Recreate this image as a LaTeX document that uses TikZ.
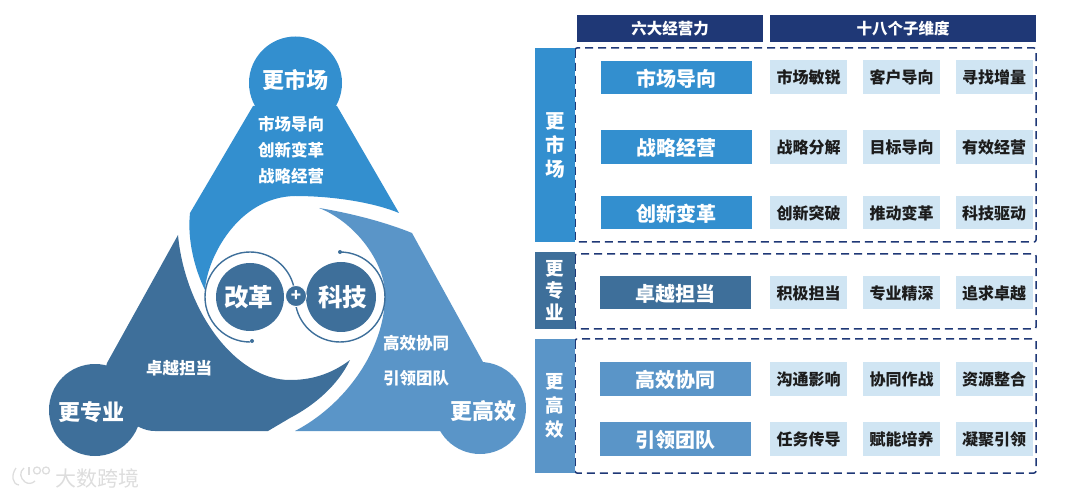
\documentclass[tikz,border=0pt]{standalone}
\usepackage{fontspec}
\usepackage{xcolor}
\setmainfont{Noto Sans CJK SC}
\definecolor{boardnavy}{HTML}{1F3876}
\definecolor{boardmarket}{HTML}{338FCF}
\definecolor{boardpro}{HTML}{3E6F9A}
\definecolor{boardteam}{HTML}{5A95C8}
\definecolor{boardpale}{HTML}{D0E5F3}
\definecolor{boardink}{HTML}{1C1C1C}
\definecolor{boardmark}{HTML}{DDDDDD}

\begin{document}
\begin{tikzpicture}[
  x=1pt,
  y=-1pt,
  every node/.style={font=\bfseries, inner sep=0pt, outer sep=0pt, align=center},
  headbox/.style={fill=boardnavy, text=white, minimum height=27pt, font=\bfseries\fontsize{15.5}{18}\selectfont},
  bandbox/.style={text=white, minimum width=40pt, font=\bfseries\fontsize{19.5}{24}\selectfont},
  mainbox/.style={text=white, minimum width=151pt, minimum height=33.5pt, text height=19pt, font=\bfseries\fontsize{20}{24}\selectfont},
  subbox/.style={fill=boardpale, text=boardink, minimum width=77pt, minimum height=33.5pt, text height=15pt, font=\bfseries\fontsize{16}{18}\selectfont},
  dashbox/.style={draw=boardnavy, line width=1.5pt, dash pattern=on 8pt off 5pt, rounded corners=2pt},
  ringline/.style={draw=boardpro, line width=1.4pt},
  shapetext/.style={text=white, font=\bfseries\fontsize{16.5}{18}\selectfont},
  circletext/.style={text=white, font=\bfseries\fontsize{22}{26}\selectfont},
  corecircle/.style={circle, fill=boardpro, text=white, minimum size=68pt, font=\bfseries\fontsize{24.5}{28}\selectfont},
  markline/.style={draw=boardmark, line width=1.3pt}
]
  \useasboundingbox (0,0) rectangle (1080,497);

  \path[fill=boardmarket] (253,106) -- (190,213) .. controls (187,240) and (195,270) .. (205,290)
    .. controls (207,258) and (238,197) .. (295,196) .. controls (335,196) and (375,203) .. (399,213) -- (337,106) -- cycle;
  \path[fill=boardteam] (319,208) .. controls (350,213) and (385,222) .. (412,233) -- (483,362) -- (480,431) -- (295,431)
    .. controls (345,405) and (385,350) .. (385,295) .. controls (385,262) and (355,222) .. (319,208) -- cycle;
  \path[fill=boardpro] (178,235) -- (107,363) -- (95,410) -- (139,427) .. controls (145,430) and (150,431) .. (155,431)
    -- (268,431) -- (290,418) .. controls (315,405) and (338,385) .. (350,360)
    .. controls (330,375) and (310,380) .. (290,380) .. controls (235,380) and (185,310) .. (178,235) -- cycle;

  \node[circle, fill=boardmarket, minimum size=93pt] (marketcircle) at (295.5,83) {};
  \node[circle, fill=boardpro, minimum size=92pt] (procircle) at (95,410) {};
  \node[circle, fill=boardteam, minimum size=92pt] (teamcircle) at (480,408) {};
  \node[circletext] (markettitle) at (295,80) {更市场};
  \node[circletext] (protitle) at (91,412) {更专业};
  \node[circletext] (teamtitle) at (483,411) {更高效};

  \node[shapetext] (tri1) at (291,124) {市场导向};
  \node[shapetext] (tri2) at (291,150) {创新变革};
  \node[shapetext] (tri3) at (291,176) {战略经营};
  \node[shapetext] (tri4) at (179,368) {卓越担当};
  \node[shapetext] (tri5) at (416,343) {高效协同};
  \node[shapetext] (tri6) at (416,378) {引领团队};

  \draw[ringline] (250,342) arc[start angle=90, end angle=347, radius=45];
  \draw[ringline] (340,252) arc[start angle=-90, end angle=168, radius=45];
  \path[fill=boardpro] (252,341) circle (2);
  \path[fill=boardpro] (340,252) circle (2);
  \node[corecircle] (reform) at (250,297) {\kern-3pt改革};
  \node[corecircle, minimum size=70pt] (tech) at (341,297) {科技\kern-3pt};
  \node[circle, fill=boardpro, draw=white, line width=0.8pt, minimum size=21pt, text=white, font=\bfseries\fontsize{17}{18}\selectfont] (plus) at (296,296) {+};

  \node[headbox, minimum width=186pt] (head1) at (670,28.5) {六大经营力};
  \node[headbox, minimum width=266pt] (head2) at (903,28.5) {十八个子维度};

  \draw[dashbox] (575,48) rectangle (1036,242);
  \draw[dashbox] (575,254) rectangle (1036,329);
  \draw[dashbox] (575,339) rectangle (1036,473);

  \node[bandbox, fill=boardmarket, minimum height=194pt] (band1) at (555,145) {更\\市\\场};
  \node[bandbox, fill=boardpro, minimum height=77pt, font=\bfseries\fontsize{18.5}{22}\selectfont] (band2) at (555,290.5) {更\\专\\业};
  \node[bandbox, fill=boardteam, minimum height=134pt, font=\bfseries\fontsize{18.5}{24}\selectfont] (band3) at (555,406) {更\\高\\效};

  \node[mainbox, fill=boardmarket] (main1) at (676.5,77.5) {市场导向};
  \node[mainbox, fill=boardmarket] (main2) at (676.5,147) {战略经营};
  \node[mainbox, fill=boardmarket] (main3) at (676.5,212.5) {创新变革};
  \node[mainbox, fill=boardpro] (main4) at (675.5,292.5) {卓越担当};
  \node[mainbox, fill=boardteam] (main5) at (675,379) {高效协同};
  \node[mainbox, fill=boardteam] (main6) at (675.5,439) {引领团队};

  \foreach \y/\rowname/\a/\b/\c in {
    77/a/市场敏锐/客户导向/寻找增量,
    147/b/战略分解/目标导向/有效经营,
    212.5/c/创新突破/推动变革/科技驱动,
    292.5/d/积极担当/专业精深/追求卓越,
    379/e/沟通影响/协同作战/资源整合,
    439/f/任务传导/赋能培养/凝聚引领}
  {
    \node[subbox] (sub\rowname1) at (808.5,\y) {\a};
    \node[subbox] (sub\rowname2) at (901.5,\y) {\b};
    \node[subbox] (sub\rowname3) at (994,\y) {\c};
  }

  \draw[markline] (16,468) .. controls (11,475) and (12,484) .. (19,485);
  \draw[markline] (24,468) .. controls (19,472) and (20,478) .. (25,482) .. controls (28,484) and (32,484) .. (35,481);
  \draw[markline] (29,467) -- (29,475);
  \draw[markline] (37,470.5) circle (3.5);
  \draw[markline] (46,470.5) circle (3.5);
  \node[text=boardmark, font=\fontsize{21}{24}\selectfont] (mark) at (98,478) {大数跨境};
\end{tikzpicture}
\end{document}
